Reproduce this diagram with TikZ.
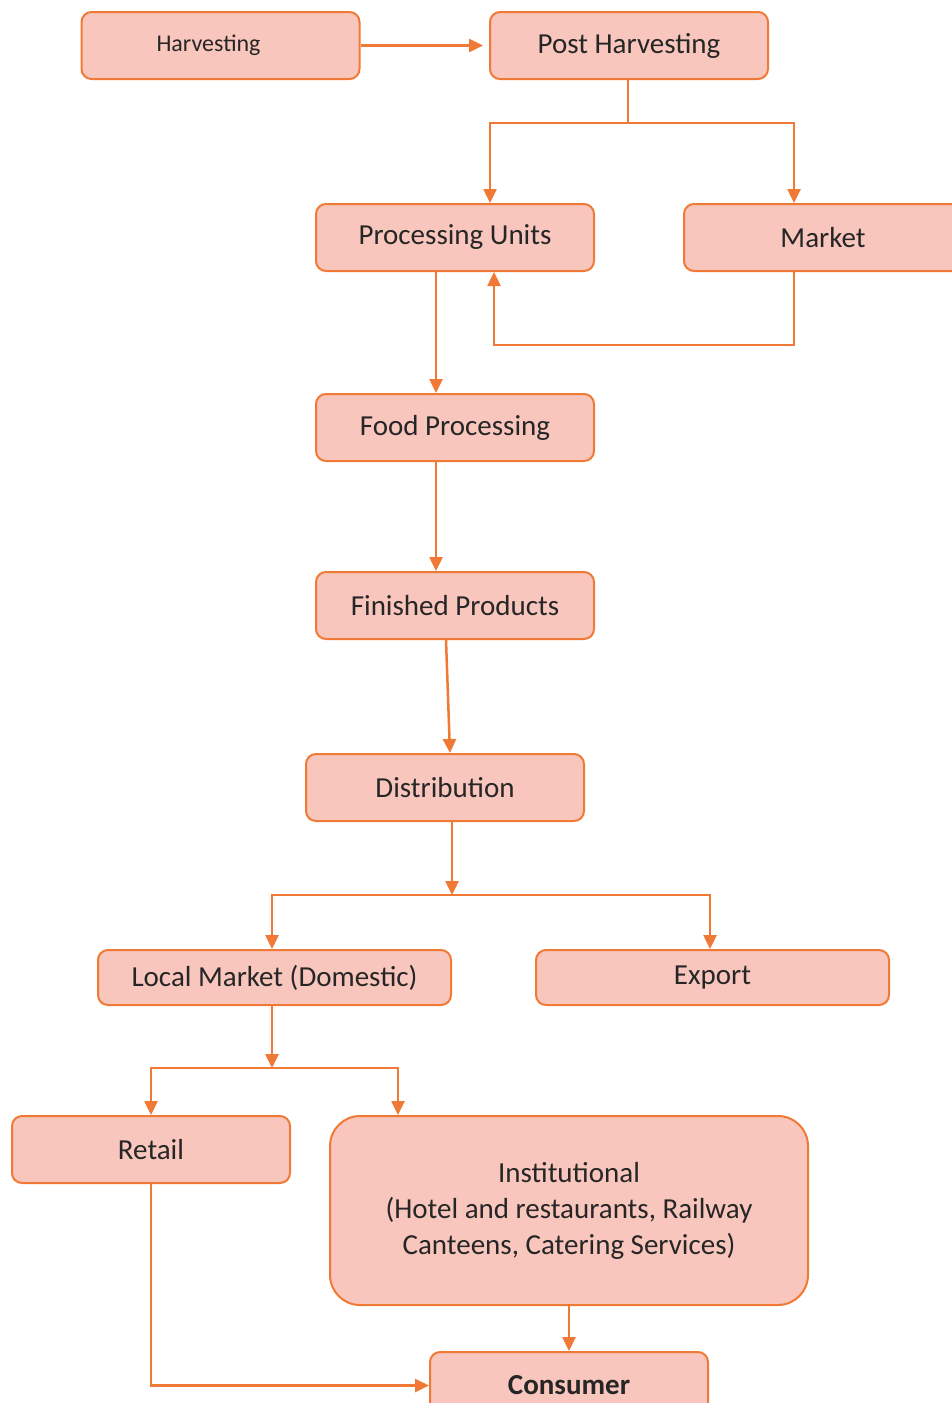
\documentclass[tikz,border=0pt]{standalone}
\usepackage{fontspec}
\setmainfont{Carlito}
\usetikzlibrary{arrows.meta}
\definecolor{boxfill}{HTML}{F8C6BC}
\definecolor{boxline}{HTML}{F07A35}
\definecolor{txt}{HTML}{262626}
\begin{document}
\begin{tikzpicture}[x=1pt,y=-1pt,
  box/.style={draw=boxline, fill=boxfill, line width=2pt, rounded corners=10pt,
    minimum width=278pt, minimum height=67pt, inner sep=0pt, text=txt,
    font=\fontsize{29}{36}\selectfont, align=center},
  link/.style={draw=boxline, line width=2.5pt},
  arr/.style={link, -{Triangle[length=14pt,width=13pt]}}]
\useasboundingbox (0,0) rectangle (951,1403);

% process boxes
\node[box, font=\fontsize{24}{28}\selectfont] (hv) at (220.5,45.5) {\hspace*{-24pt}Harvesting};
\node[box] (ph) at (629,45.5) {Post Harvesting};
\node[box] (pu) at (455,237.5) {Processing Units};
\node[box] (mk) at (823,237.5) {Market};
\node[box] (fp) at (455,427.5) {Food Processing};
\node[box] (fn) at (455,605.5) {Finished Products};
\node[box] (ds) at (445,787.5) {Distribution};
\node[box, minimum width=353pt, minimum height=55pt] (lm) at (274.5,977.5) {Local Market (Domestic)};
\node[box, minimum width=353pt, minimum height=55pt] (ex) at (712.5,977.5) {Export};
\node[box] (rt) at (151,1149.5) {Retail};
\node[box, minimum width=478pt, minimum height=189pt, rounded corners=30pt] (in) at (569,1210.5)
  {Institutional\\(Hotel and restaurants, Railway\\Canteens, Catering Services)};
\node[box, font=\fontsize{29}{36}\selectfont\bfseries] (cs) at (569,1385.5) {Consumer};

% junction points
\coordinate (s1) at (628,123);
\coordinate (jl) at (490,123);
\coordinate (jr) at (794,123);
\coordinate (fb) at (494,345);
\coordinate (s2) at (452,895);
\coordinate (s3) at (272,1068);
\coordinate (j3) at (398,1068);

% connectors
\draw[arr, shorten >=6pt] (hv.east) -- (ph.west);
\draw[link] (ph.south -| s1) -- (s1);
\draw[arr] (s1) -- (jl) -- (jl |- pu.north);
\draw[arr] (s1) -- (jr) -- (jr |- mk.north);
\draw[arr] (jr |- mk.south) -- (jr |- fb) -- (fb) -- (fb |- pu.south);
\draw[arr] ([xshift=-19pt]pu.south) -- ([xshift=-19pt]fp.north);
\draw[arr] ([xshift=-19pt]fp.south) -- ([xshift=-19pt]fn.north);
\draw[arr] ([xshift=-9pt]fn.south) -- ([xshift=5pt]ds.north);
\draw[arr] ([xshift=7pt]ds.south) -- (s2);
\draw[arr] (s2) -| ([xshift=-2.5pt]lm.north);
\draw[arr] (s2) -| ([xshift=-2.5pt]ex.north);
\draw[arr] (lm.south -| s3) -- (s3);
\draw[arr] (s3) -| (rt.north);
\draw[arr] (s3) -- (j3) -- (j3 |- in.north);
\draw[arr] (rt.south) |- (cs.west);
\draw[arr] (in.south) -- (cs.north);
\end{tikzpicture}
\end{document}
